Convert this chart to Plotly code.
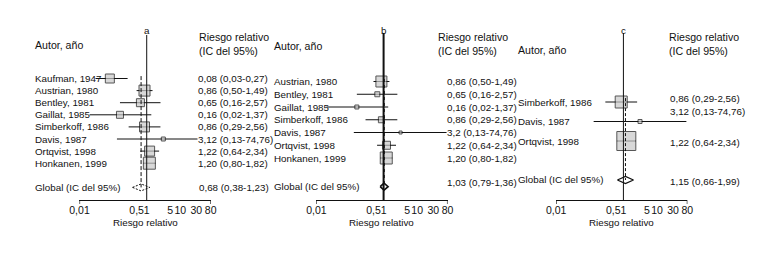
import math
import plotly.graph_objects as go

W, H = 757, 253

# ---------------- data ----------------
studies_a = ["Kaufman, 1947", "Austrian, 1980", "Bentley, 1981", "Gaillat, 1985",
             "Simberkoff, 1986", "Davis, 1987", "Ortqvist, 1998", "Honkanen, 1999"]
rr_a = [0.08, 0.86, 0.65, 0.16, 0.86, 3.12, 1.22, 1.20]
lo_a = [0.03, 0.50, 0.16, 0.02, 0.29, 0.13, 0.64, 0.80]
hi_a = [0.27, 1.49, 2.57, 1.37, 2.56, 74.76, 2.34, 1.82]
weight_a = [9, 11, 8, 7, 10, 4, 10, 12]
labels_a = ["0,08 (0,03-0,27)", "0,86 (0,50-1,49)", "0,65 (0,16-2,57)", "0,16 (0,02-1,37)",
            "0,86 (0,29-2,56)", "3,12 (0,13-74,76)", "1,22 (0,64-2,34)", "1,20 (0,80-1,82)"]
pooled_a = [0.68, 0.38, 1.23]
pooled_label_a = "0,68 (0,38-1,23)"

studies_b = ["Austrian, 1980", "Bentley, 1981", "Gaillat, 1985", "Simberkoff, 1986",
             "Davis, 1987", "Ortqvist, 1998", "Honkanen, 1999"]
rr_b = [0.86, 0.65, 0.16, 0.86, 3.2, 1.22, 1.20]
lo_b = [0.50, 0.16, 0.02, 0.29, 0.13, 0.64, 0.80]
hi_b = [1.49, 2.57, 1.37, 2.56, 74.76, 2.34, 1.82]
weight_b = [11, 5, 4, 6, 3, 8, 12]
labels_b = ["0,86 (0,50-1,49)", "0,65 (0,16-2,57)", "0,16 (0,02-1,37)", "0,86 (0,29-2,56)",
            "3,2 (0,13-74,76)", "1,22 (0,64-2,34)", "1,20 (0,80-1,82)"]
pooled_b = [1.03, 0.79, 1.36]
pooled_label_b = "1,03 (0,79-1,36)"

studies_c = ["Simberkoff, 1986", "Davis, 1987", "Ortqvist, 1998"]
rr_c = [0.86, 3.12, 1.22]
lo_c = [0.29, 0.13, 0.64]
hi_c = [2.56, 74.76, 2.34]
weight_c = [12, 4, 19]
labels_c = ["0,86 (0,29-2,56)", "3,12 (0,13-74,76)", "1,22 (0,64-2,34)"]
pooled_c = [1.15, 0.66, 1.99]
pooled_label_c = "1,15 (0,66-1,99)"

tick_vals = [0.01, 0.5, 1, 5, 10, 30, 80]
tick_text = ["0,01", "0,5", "1", "5", "10", "30", "80"]
panel_names = ["a", "b", "c"]
global_label = "Global (IC del 95%)"
head_author = "Autor, año"
head_rr = "Riesgo relativo<br>(IC del 95%)"
axis_title = "Riesgo relativo"

# ---------------- layout config (pixels) ----------------
FONT = "Liberation Sans, Arial, sans-serif"
FS = 9.8
AXIS_Y = 200
panels = [
    dict(name=panel_names[0], studies=studies_a, rr=rr_a, lo=lo_a, hi=hi_a, w=weight_a,
         lab=labels_a, pooled=pooled_a, plab=pooled_label_a,
         x0=71, x1=205, p0=78.5, sp=12.1, grow=9, labx=23, valx=191, headx=191,
         authy=45, linetop=35, pdash="4px,2px", pwidth=1, ddash="2px,1.5px", dwidth=1,
         vwidth=1, valshift=[0] * 8, pvalshift=0, glabshift=0, valbg=True),
    dict(name=panel_names[1], studies=studies_b, rr=rr_b, lo=lo_b, hi=hi_b, w=weight_b,
         lab=labels_b, pooled=pooled_b, plab=pooled_label_b,
         x0=313, x1=447, p0=81.5, sp=12.75, grow=8.25, labx=268, valx=444, headx=435,
         authy=46, linetop=33, pdash="dot", pwidth=1.5, ddash="solid", dwidth=1.6,
         vwidth=2, valshift=[0] * 7, pvalshift=4, glabshift=0, valbg=False),
    dict(name=panel_names[2], studies=studies_c, rr=rr_c, lo=lo_c, hi=hi_c, w=weight_c,
         lab=labels_c, pooled=pooled_c, plab=pooled_label_c,
         x0=558, x1=692, p0=102, sp=19.5, grow=4, labx=517, valx=672, headx=671,
         authy=50, linetop=33, pdash="3px,2px", pwidth=1, ddash="solid", dwidth=1.3,
         vwidth=1, valshift=[4, 10, -1], pvalshift=-1, glabshift=1, valbg=False),
]

fig = go.Figure()
annotations = []
shapes = []
BOXFILL = "#c8c8c8"
INK = "#111111"


def py(px):
    return 1 - px / H


for k, P in enumerate(panels):
    sfx = "" if k == 0 else str(k + 1)
    xa, ya = "x" + sfx, "y" + sfx
    n = len(P["studies"])
    rows = list(range(n))
    # CI lines
    cx, cy = [], []
    for i in rows:
        cx += [P["lo"][i], P["hi"][i], None]
        cy += [i, i, None]
    fig.add_trace(go.Scatter(x=cx, y=cy, mode="lines", line=dict(color=INK, width=1),
                             xaxis=xa, yaxis=ya, hoverinfo="skip", showlegend=False,
                             cliponaxis=False))
    # boxes
    fig.add_trace(go.Scatter(x=P["rr"], y=rows, mode="markers",
                             marker=dict(symbol="square", size=P["w"], color=BOXFILL,
                                         line=dict(color=INK, width=1)),
                             xaxis=xa, yaxis=ya, showlegend=False, cliponaxis=False))
    # pooled diamond
    est, plo, phi = P["pooled"]
    g = P["grow"]
    h = 3.5 / P["sp"]
    fig.add_trace(go.Scatter(x=[plo, est, phi, est, plo], y=[g, g - h, g, g + h, g],
                             mode="lines", fill="toself", fillcolor="white",
                             line=dict(color=INK, width=P["dwidth"], dash=P["ddash"]),
                             xaxis=xa, yaxis=ya, showlegend=False, hoverinfo="skip"))
    # axes
    fig.update_layout(**{
        ("xaxis" + sfx): dict(type="log", range=[math.log10(tick_vals[0]), math.log10(tick_vals[-1])],
                              domain=[P["x0"] / W, P["x1"] / W], anchor=ya,
                              showline=True, linecolor=INK, linewidth=1.2, ticks="",
                              tickvals=tick_vals, ticktext=tick_text, tickangle=0,
                              ticklabelstandoff=0,
                              tickfont=dict(family=FONT, size=FS + 0.7, color=INK),
                              showgrid=False, zeroline=False, fixedrange=True),
        ("yaxis" + sfx): dict(domain=[py(AXIS_Y), 1], anchor=xa, visible=False,
                              range=[(AXIS_Y - P["p0"]) / P["sp"], -P["p0"] / P["sp"]],
                              fixedrange=True),
    })
    # vertical line of no effect
    shapes.append(dict(type="line", xref=xa, yref="paper", x0=1, x1=1,
                       y0=py(AXIS_Y), y1=py(P["linetop"]), line=dict(color=INK, width=P["vwidth"])))
    # pooled estimate line
    shapes.append(dict(type="line", xref=xa, yref=ya, x0=est, x1=est, y0=-0.2, y1=g,
                       line=dict(color=INK, width=P["pwidth"], dash=P["pdash"])))
    # end ticks
    for tv in (tick_vals[0], tick_vals[-1]):
        shapes.append(dict(type="line", xref=xa, yref="paper", x0=tv, x1=tv,
                           y0=py(AXIS_Y), y1=py(AXIS_Y + 4), line=dict(color=INK, width=1.2)))
    # text
    f = dict(family=FONT, size=FS, color=INK)
    fh = dict(family=FONT, size=FS + 0.8, color=INK)
    annotations.append(dict(text=axis_title, xref=xa + " domain", yref="paper", x=0.5, y=py(222),
                            showarrow=False, xanchor="center", yanchor="middle", font=f))
    annotations.append(dict(text=P["name"], xref=xa, yref="paper", x=0, y=py(31),
                            showarrow=False, xanchor="center", yanchor="middle", font=f))
    annotations.append(dict(text=head_author, xref="paper", yref="paper", x=P["labx"] / W,
                            y=py(P["authy"]), showarrow=False, xanchor="left",
                            yanchor="middle", font=fh))
    annotations.append(dict(text=head_rr, xref="paper", yref="paper", x=P["headx"] / W,
                            y=py(44), showarrow=False, xanchor="left", yanchor="middle",
                            align="left", font=fh))
    for i in rows:
        annotations.append(dict(text=P["studies"][i], xref="paper", yref=ya, x=P["labx"] / W,
                                y=i, showarrow=False, xanchor="left", yanchor="middle", font=f))
        ann = dict(text=P["lab"][i], xref="paper", yref=ya, x=P["valx"] / W, y=i,
                   yshift=P["valshift"][i], showarrow=False, xanchor="left",
                   yanchor="middle", font=f)
        if P["valbg"]:
            ann.update(bgcolor="white", borderpad=0)
        annotations.append(ann)
    annotations.append(dict(text=global_label, xref="paper", yref=ya, x=P["labx"] / W, y=g,
                            yshift=P["glabshift"], showarrow=False, xanchor="left",
                            yanchor="middle", font=f))
    annotations.append(dict(text=P["plab"], xref="paper", yref=ya, x=P["valx"] / W, y=g,
                            yshift=P["pvalshift"], showarrow=False, xanchor="left",
                            yanchor="middle", font=f))

fig.update_layout(width=W, height=H, margin=dict(l=0, r=0, t=0, b=0),
                  paper_bgcolor="white", plot_bgcolor="rgba(0,0,0,0)",
                  showlegend=False, annotations=annotations, shapes=shapes,
                  font=dict(family=FONT, size=FS, color=INK))
fig.write_html("out.html", config={"displayModeBar": False, "staticPlot": True},
               post_script="document.body.style.margin='0';document.body.style.overflow='hidden';")
